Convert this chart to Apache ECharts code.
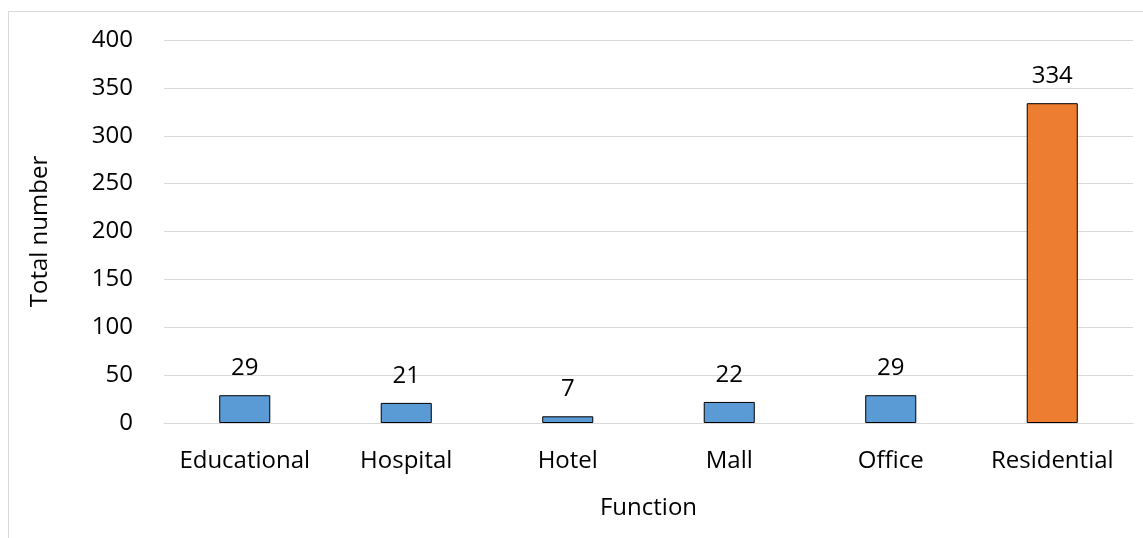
<!DOCTYPE html>
<html>
<head>
<meta charset="utf-8">
<script src="https://cdn.jsdelivr.net/npm/echarts@6/dist/echarts.min.js"></script>
<style>
  html, body { margin: 0; padding: 0; background: #fff; }
  #frame { position: absolute; left: 8px; top: 11px; width: 1140px; height: 540px; border: 1px solid #d9d9d9; box-sizing: border-box; }
  #chart { width: 1143px; height: 538px; }
</style>
</head>
<body>
<div id="frame"></div>
<div id="chart"></div>
<script>
// chart data
const categories = ['Educational', 'Hospital', 'Hotel', 'Mall', 'Office', 'Residential']
const totals = [29, 21, 7, 22, 29, 334]
const barColors = ['#5B9BD5', '#5B9BD5', '#5B9BD5', '#5B9BD5', '#5B9BD5', '#ED7D31']

const font = 'Open Sans, Noto Sans, sans-serif'
const fs = 24
const chart = echarts.init(document.getElementById('chart'))

chart.setOption({
  animation: false,
  textStyle: { fontFamily: font },
  grid: {
    left: 164,
    right: 10,
    top: 40,
    bottom: 115
  },
  xAxis: {
    type: 'category',
    data: categories,
    name: 'Function',
    nameLocation: 'middle',
    nameGap: 73,
    nameTextStyle: { fontSize: fs, color: '#000', fontFamily: font },
    axisLine: { show: true, lineStyle: { color: '#d9d9d9', width: 1 } },
    axisTick: { show: false },
    axisLabel: { color: '#000', fontSize: fs, margin: 26, interval: 0, fontFamily: font }
  },
  yAxis: {
    type: 'value',
    min: 0,
    max: 400,
    interval: 50,
    name: 'Total number',
    nameLocation: 'middle',
    nameGap: 112,
    nameTextStyle: { fontSize: fs, color: '#000', fontFamily: font },
    axisLine: { show: false },
    axisTick: { show: false },
    splitLine: { lineStyle: { color: '#d9d9d9', width: 1 } },
    axisLabel: { color: '#000', fontSize: fs, margin: 31, fontFamily: font }
  },
  series: [{
    type: 'bar',
    barWidth: '31.6%',
    data: totals.map((v, i) => ({
      value: v,
      itemStyle: { color: barColors[i] }
    })),
    itemStyle: { borderColor: '#000', borderWidth: 1 },
    label: {
      show: true,
      position: 'top',
      distance: 15,
      color: '#000',
      fontSize: fs,
      fontFamily: font
    }
  }]
})
</script>
</body>
</html>
